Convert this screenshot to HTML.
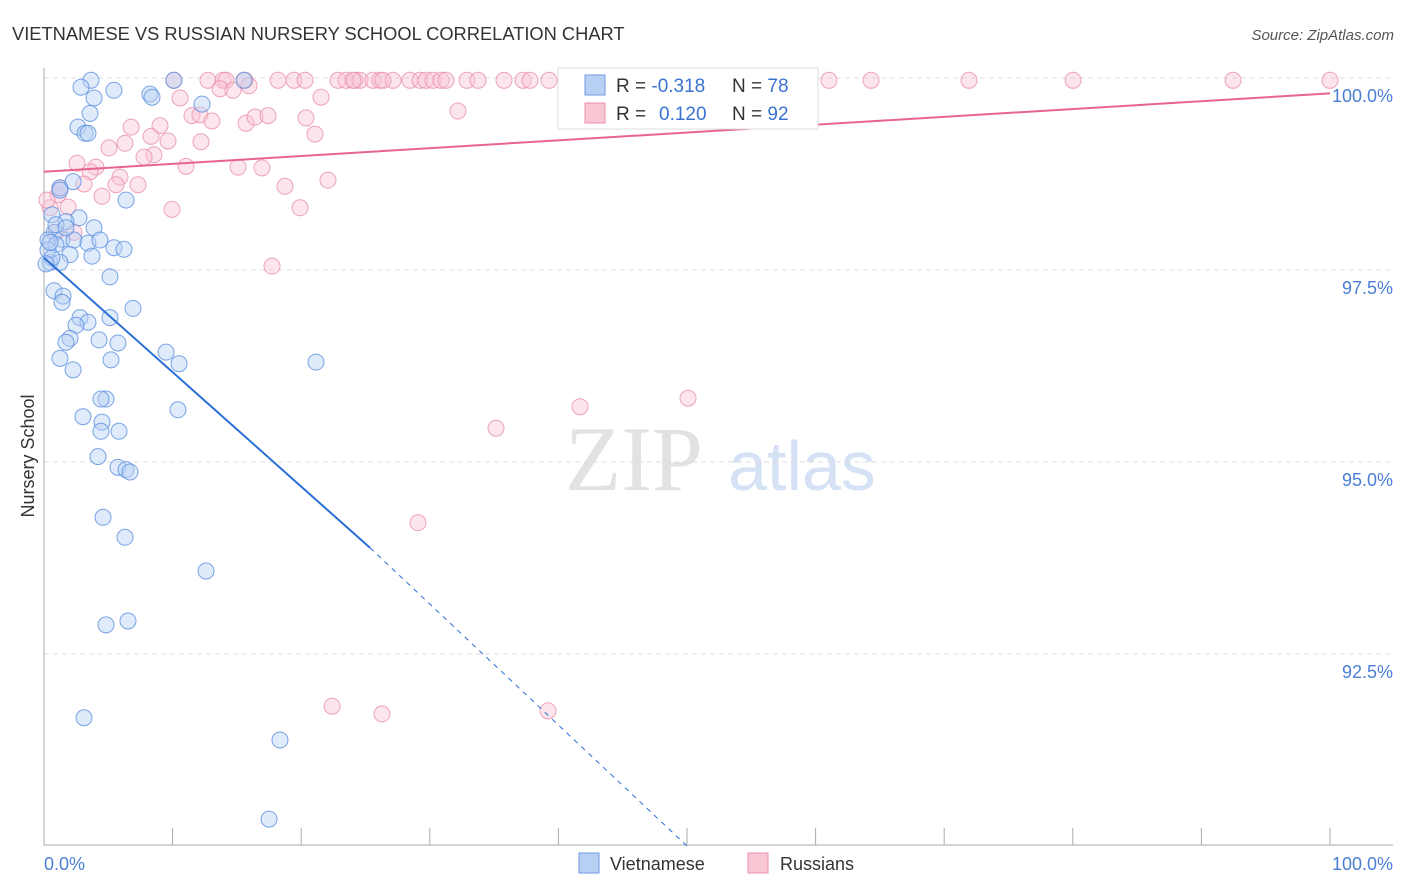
<!DOCTYPE html>
<html><head><meta charset="utf-8"><style>
body{margin:0;background:#fff;font-family:"Liberation Sans",sans-serif;}
svg{display:block}
</style></head><body>
<svg id="chart" width="1406" height="892" xmlns="http://www.w3.org/2000/svg">
<text x="12" y="40" font-size="18.3" fill="#333">VIETNAMESE VS RUSSIAN NURSERY SCHOOL CORRELATION CHART</text>
<text x="1394" y="40" font-size="15" fill="#555" text-anchor="end" font-style="italic">Source: ZipAtlas.com</text>
<g>
<text x="634" y="490" font-size="92" fill="#e2e2e2" text-anchor="middle" font-family="Liberation Serif,serif">ZIP</text>
<text x="802" y="490" font-size="70" fill="#d5e2f5" text-anchor="middle">atlas</text>
</g>
<g id="grid"></g>
<g id="axes"></g>
<g id="pts"></g>
<g id="trend"></g>
<text transform="translate(34,456) rotate(-90)" font-size="18" fill="#333" text-anchor="middle">Nursery School</text>
<text x="44" y="870" font-size="18" fill="#4a7fd4">0.0%</text>
<text x="1393" y="870" font-size="18" fill="#4a7fd4" text-anchor="end">100.0%</text>
<g>
<rect x="558" y="68" width="260" height="61" fill="#fff" stroke="#ddd"/>
<rect x="585" y="75" width="20" height="20" fill="#b8d0f3" stroke="#6f9be0"/>
<rect x="585" y="103" width="20" height="20" fill="#f9c6d4" stroke="#e890ab"/>
<text x="616" y="92" font-size="19" fill="#333">R = <tspan fill="#3b73d1">-0.318</tspan><tspan x="732">N = </tspan><tspan fill="#3b73d1">78</tspan></text>
<text x="616" y="120" font-size="19" fill="#333">R = <tspan fill="#3b73d1" x="659">0.120</tspan><tspan x="732">N = </tspan><tspan fill="#3b73d1">92</tspan></text>
</g>
<g>
<rect x="579" y="853" width="20" height="20" fill="#b8d0f3" stroke="#6f9be0"/>
<text x="610" y="870" font-size="18" fill="#333">Vietnamese</text>
<rect x="748" y="853" width="20" height="20" fill="#f9c6d4" stroke="#e890ab"/>
<text x="780" y="870" font-size="18" fill="#333">Russians</text>
</g>
</svg>
<script>
const yTicks=[100,97.5,95,92.5];
const yTickLabels=["100.0%","97.5%","95.0%","92.5%"];
const xTicks=[0,10,20,30,40,50,60,70,80,90,100];
const viet_x=[3.65,10.1,15.55,2.88,5.44,8.24,8.4,3.89,12.29,3.58,2.64,3.19,3.42,1.24,2.26,6.38,0.62,2.72,1.71,3.89,0.78,0.31,1.4,2.33,3.42,5.44,6.22,0.93,2.02,3.73,0.47,1.24,5.13,0.78,1.48,1.4,6.92,5.13,2.8,3.42,2.49,2.02,1.71,4.28,5.75,1.24,5.21,9.49,10.5,21.15,2.26,4.82,4.43,3.03,10.42,4.51,4.43,5.83,4.2,5.75,6.38,6.69,4.59,6.3,12.6,4.82,6.53,3.11,18.35,17.5,0.31,0.62,0.16,0.93,0.47,1.24,4.35,1.71];
const viet_y=[99.97,99.97,99.97,99.88,99.84,99.79,99.75,99.74,99.66,99.54,99.36,99.28,99.28,98.57,98.65,98.41,98.22,98.18,98.13,98.05,97.99,97.89,97.9,97.89,97.85,97.79,97.77,97.83,97.7,97.68,97.6,97.6,97.41,97.23,97.16,97.08,97.0,96.88,96.88,96.82,96.78,96.61,96.56,96.59,96.55,96.35,96.33,96.43,96.28,96.3,96.2,95.82,95.82,95.59,95.68,95.52,95.4,95.4,95.07,94.93,94.9,94.87,94.28,94.02,93.58,92.88,92.93,91.67,91.38,90.35,97.76,97.66,97.58,98.09,97.86,98.54,97.89,98.05];
const rus_x=[10.1,12.75,13.92,15.63,18.2,19.44,20.3,22.86,23.48,24.18,24.57,25.58,26.13,27.14,28.46,29.24,29.7,30.25,30.87,31.26,32.89,33.75,35.77,37.25,37.79,39.27,41.06,47.12,51.01,52.57,59.25,61.04,64.31,71.93,80.02,92.46,100,14.15,24.03,26.36,10.58,13.69,14.7,15.94,21.54,32.19,11.51,12.13,13.06,15.71,16.41,17.42,20.37,6.77,9.02,12.21,8.32,21.07,6.3,5.05,9.64,8.55,7.78,2.57,4.04,11.04,3.58,15.09,16.95,5.91,5.6,7.31,3.11,18.74,22.08,1.09,4.51,1.24,1.87,9.95,19.91,0.47,0.23,17.73,41.68,50.08,35.15,29.08,22.4,26.28,39.19,2.33,0.93];
const rus_y=[99.97,99.97,99.97,99.97,99.97,99.97,99.97,99.97,99.97,99.97,99.97,99.97,99.97,99.97,99.97,99.97,99.97,99.97,99.97,99.97,99.97,99.97,99.97,99.97,99.97,99.97,99.97,99.97,99.97,99.97,99.97,99.97,99.97,99.97,99.97,99.97,99.97,99.97,99.97,99.97,99.74,99.86,99.84,99.9,99.75,99.57,99.51,99.52,99.44,99.41,99.49,99.51,99.48,99.36,99.38,99.17,99.24,99.27,99.15,99.09,99.18,99.0,98.97,98.89,98.84,98.85,98.78,98.84,98.83,98.71,98.61,98.61,98.62,98.59,98.67,98.48,98.46,98.57,98.32,98.29,98.31,98.31,98.41,97.55,95.72,95.83,95.44,94.21,91.82,91.72,91.76,97.99,97.99];
const vietTrend=[97.66,-0.149]; // intercept, slope
const vietSolidEnd=25.35;
const vietDashEnd=50;
const rusTrend=[98.78,0.0102];
const NS="http://www.w3.org/2000/svg";
const X=v=>44+v*12.86;
const Y=v=>78+(100-v)*76.8;
function mk(tag,attrs,parent){const e=document.createElementNS(NS,tag);for(const k in attrs)e.setAttribute(k,attrs[k]);parent.appendChild(e);return e;}
const grid=document.getElementById('grid'),axes=document.getElementById('axes'),pts=document.getElementById('pts'),tr=document.getElementById('trend');
yTicks.forEach((t,i)=>{
  const l=mk('line',{x1:44,x2:1393,y1:Y(t),y2:Y(t),stroke:'#dcdcdc','stroke-dasharray':'5,4'},grid);
  
  
  const tx=mk('text',{x:1393,y:Y(t)+24,'font-size':18,fill:'#4a7fd4','text-anchor':'end'},grid);
  tx.textContent=yTickLabels[i];
  
  
});
const ya=mk('line',{x1:44,x2:44,y1:68,y2:845,stroke:'#aaa'},axes);


const xa=mk('line',{x1:44,x2:1393,y1:845,y2:845,stroke:'#aaa'},axes);


xTicks.forEach(t=>{
  const l=mk('line',{x1:X(t),x2:X(t),y1:828,y2:845,stroke:'#aaa'},axes);
  
  
});
function dots(xs,ys,fill,stroke,name){
  xs.forEach((x,i)=>{
    const c=mk('circle',{cx:X(x),cy:Y(ys[i]),r:8,fill:fill,'fill-opacity':0.45,stroke:stroke,'stroke-width':1,'stroke-opacity':0.8},pts);
    
    
  });
}
dots(rus_x,rus_y,'#f9c6d4','#e890ab','russians-point');
dots(viet_x,viet_y,'#b8d0f3','#5a8ee0','vietnamese-point');
const vy=x=>vietTrend[0]+vietTrend[1]*x;
const v1=mk('line',{x1:X(0),y1:Y(vy(0)),x2:X(vietSolidEnd),y2:Y(vy(vietSolidEnd)),stroke:'#2a6fd6','stroke-width':2},tr);


const v2=mk('line',{x1:X(vietSolidEnd),y1:Y(vy(vietSolidEnd)),x2:X(vietDashEnd),y2:Y(90),stroke:'#2a6fd6','stroke-width':1,'stroke-dasharray':'5,5'},tr);


const ry=x=>rusTrend[0]+rusTrend[1]*x;
const r1=mk('line',{x1:X(0),y1:Y(ry(0)),x2:X(100),y2:Y(ry(100)),stroke:'#e8648e','stroke-width':2},tr);


</script>
</body></html>
